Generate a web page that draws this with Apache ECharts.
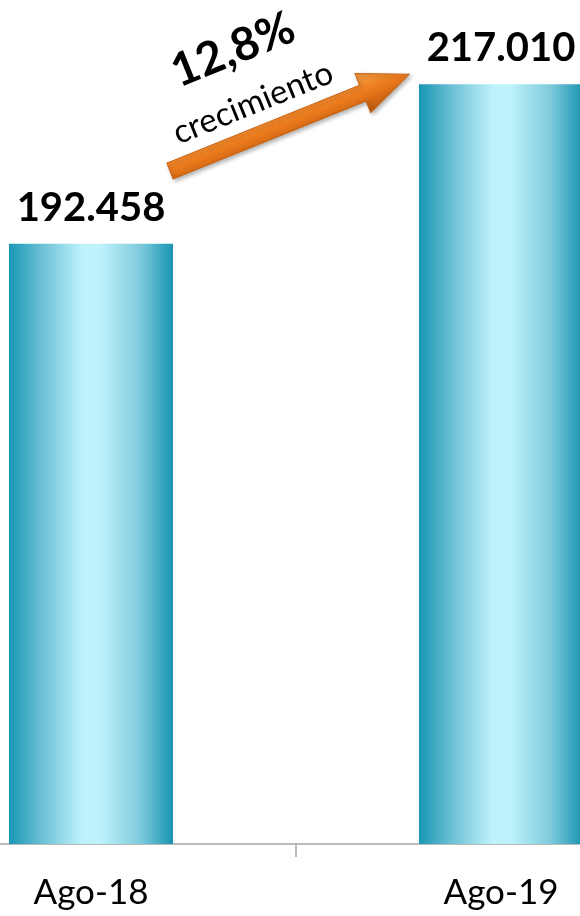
<!DOCTYPE html>
<html>
<head>
<meta charset="utf-8">
<script src="https://cdn.jsdelivr.net/npm/echarts@6/dist/echarts.min.js"></script>
<style>
  html, body { margin: 0; padding: 0; background: #fff; }
  #main { width: 580px; height: 916px; }
</style>
</head>
<body>
<div id="main"></div>
<script>
// datos
var categories = ['Ago-18', 'Ago-19'];
var values = [192458, 217010];
var growthText = '12,8%';
var growthLabel = 'crecimiento';

function fmt(v) {
  // separador de miles con punto
  return String(v).replace(/\B(?=(\d{3})+(?!\d))/g, '.');
}

var chart = echarts.init(document.getElementById('main'));

// degradado horizontal de las barras
var barColor = new echarts.graphic.LinearGradient(0, 0, 1, 0, [
  { offset: 0, color: '#1897b5' },
  { offset: 0.2, color: '#6cc0d4' },
  { offset: 0.45, color: '#bff3fc' },
  { offset: 0.55, color: '#bff3fc' },
  { offset: 0.8, color: '#7fcbdc' },
  { offset: 1, color: '#1994b2' }
]);

// flecha naranja (coordenadas locales, luego rotada)
var ang = 22 * Math.PI / 180;
var L = 258, hl = 50, sw = 17, hw = 42;
var arrowPts = [
  [0, -sw / 2], [L - hl, -sw / 2], [L - hl, -hw / 2], [L, 0],
  [L - hl, hw / 2], [L - hl, sw / 2], [0, sw / 2]
];

chart.setOption({
  animation: false,
  grid: { left: -114, right: -126, top: 0, bottom: 72, containLabel: false, outerBoundsMode: 'none' },
  xAxis: {
    type: 'category',
    data: categories,
    axisLine: { lineStyle: { color: '#a6a6a6', width: 1.5 } },
    axisTick: { show: true, length: 13, lineStyle: { color: '#a6a6a6', width: 1.5 } },
    axisLabel: {
      color: '#000',
      fontFamily: 'Lato',
      fontSize: 35,
      margin: 31
    }
  },
  yAxis: {
    type: 'value',
    min: 100000,
    max: 230000,
    show: false,
    splitLine: { show: false }
  },
  series: [{
    type: 'bar',
    data: values,
    barWidth: 164,
    itemStyle: { color: barColor },
    label: {
      show: true,
      position: 'top',
      distance: 16,
      color: '#000',
      fontFamily: 'Lato',
      fontWeight: 'bold',
      fontSize: 40,
      formatter: function (p) { return fmt(p.value); }
    }
  }],
  graphic: [
    {
      type: 'polygon',
      x: 170, y: 171,
      rotation: ang,
      z: 100,
      shape: { points: arrowPts },
      style: {
        fill: new echarts.graphic.LinearGradient(0, 0, 0, 1, [
          { offset: 0, color: '#f7a24a' },
          { offset: 0.5, color: '#ec7a1c' },
          { offset: 1, color: '#b8560e' }
        ]),
        stroke: '#c9620f',
        lineWidth: 1,
        shadowColor: 'rgba(0,0,0,0.3)',
        shadowBlur: 4,
        shadowOffsetX: 2,
        shadowOffsetY: 2
      }
    },
    {
      type: 'text',
      x: 233, y: 50,
      rotation: ang,
      z: 100,
      style: {
        text: growthText,
        fill: '#000',
        font: 'bold 46px Lato',
        align: 'center',
        verticalAlign: 'middle'
      }
    },
    {
      type: 'text',
      x: 253, y: 103,
      rotation: ang,
      z: 100,
      style: {
        text: growthLabel,
        fill: '#000',
        font: '33px Lato',
        align: 'center',
        verticalAlign: 'middle'
      }
    }
  ]
});
</script>
</body>
</html>
